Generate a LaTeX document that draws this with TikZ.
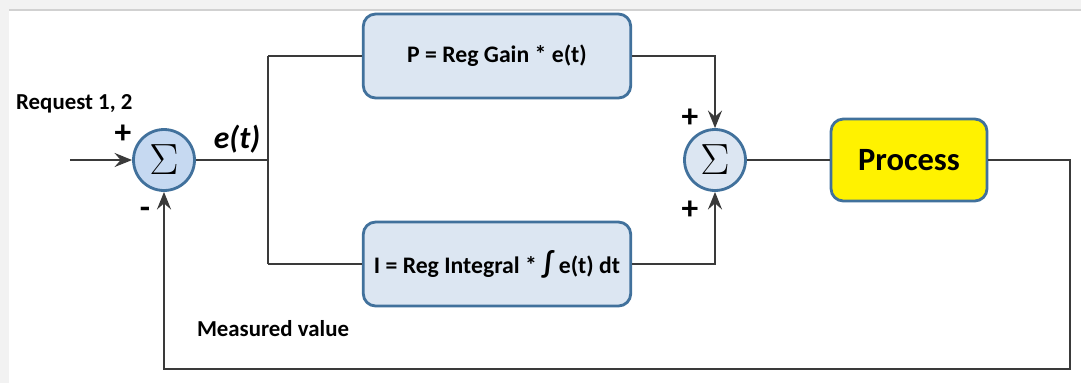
\documentclass[tikz,border=0pt]{standalone}
\usepackage{fontspec}
\setmainfont{Carlito}
\usepackage{xcolor}
\usetikzlibrary{arrows.meta}
\definecolor{boxline}{HTML}{41719C}
\definecolor{boxfill}{HTML}{DCE6F2}
\definecolor{sumfill}{HTML}{C6D9F1}
\definecolor{wire}{HTML}{3A3A3A}
\tikzset{
  regbox/.style={draw=boxline,line width=1.6pt,fill=boxfill,rounded corners=7pt,minimum width=5.35cm,minimum height=1.68cm,font=\fontsize{13.5}{15}\selectfont\bfseries},
  sumnode/.style={circle,draw=boxline,line width=1.6pt,minimum size=1.22cm,inner sep=0pt,font=\fontsize{24}{28}\selectfont},
  wire/.style={draw=wire,line width=1.1pt},
  tip/.style={-{Stealth[length=10pt,width=8pt,inset=3.5pt]}},
  sign/.style={font=\fontsize{19}{21}\selectfont\bfseries,inner sep=0pt}
}
\begin{document}
\begin{tikzpicture}[x=0.02cm,y=-0.02cm]
\useasboundingbox (0,0) rectangle (1081,383);
\fill[black!5] (0,0) rectangle (1081,383);
\fill[white] (9,10) rectangle (1081,383);
\draw[black!18,line width=0.8pt] (9,10) -- (1081,10);
\coordinate (in) at (70,160);
\node[sumnode,fill=sumfill] (S1) at (164,160) {$\Sigma$};
\node[sumnode,fill=boxfill] (S2) at (715,160) {$\Sigma$};
\node[regbox] (P) at (497,56) {P = Reg Gain * e(t)};
\node[regbox] (I) at (497,264) {I = Reg Integral * {\fontsize{17}{17}\selectfont∫} e(t) dt};
\node[draw=boxline,line width=1.6pt,fill=yellow,rounded corners=7pt,minimum width=3.12cm,minimum height=1.64cm,font=\fontsize{18.5}{20}\selectfont\bfseries] (proc) at (909,160) {Process};
\coordinate (br) at (268,160);
\coordinate (brT) at (268,56);
\coordinate (brB) at (268,264);
\coordinate (pT) at (715,56);
\coordinate (iB) at (715,264);
\coordinate (oR) at (1070,160);
\coordinate (fR) at (1070,369);
\coordinate (fL) at (164,369);
\draw[wire,tip] (in) -- (S1);
\draw[wire] (S1) -- (br);
\draw[wire] (brT) -- (brB);
\draw[wire] (brT) -- (P);
\draw[wire] (brB) -- (I);
\draw[wire,tip] (P) -- (pT) -- (S2);
\draw[wire,tip] (I) -- (iB) -- (S2);
\draw[wire] (S2) -- (proc);
\draw[wire,tip] (proc) -- (oR) -- (fR) -- (fL) -- (S1);
\node[anchor=west,font=\fontsize{13}{14}\selectfont\bfseries] (req) at (10,104) {Request 1, 2};
\node[sign] (p1) at (123,134) {+};
\node[sign] (m1) at (145,213) {-};
\node[font=\fontsize{18}{19}\selectfont\bfseries\itshape] (err) at (237,139) {e(t)};
\node[sign] (p2) at (690,118) {+};
\node[sign] (p3) at (690,210) {+};
\node[font=\fontsize{13}{14}\selectfont\bfseries] (meas) at (273,329) {Measured value};
\end{tikzpicture}
\end{document}
